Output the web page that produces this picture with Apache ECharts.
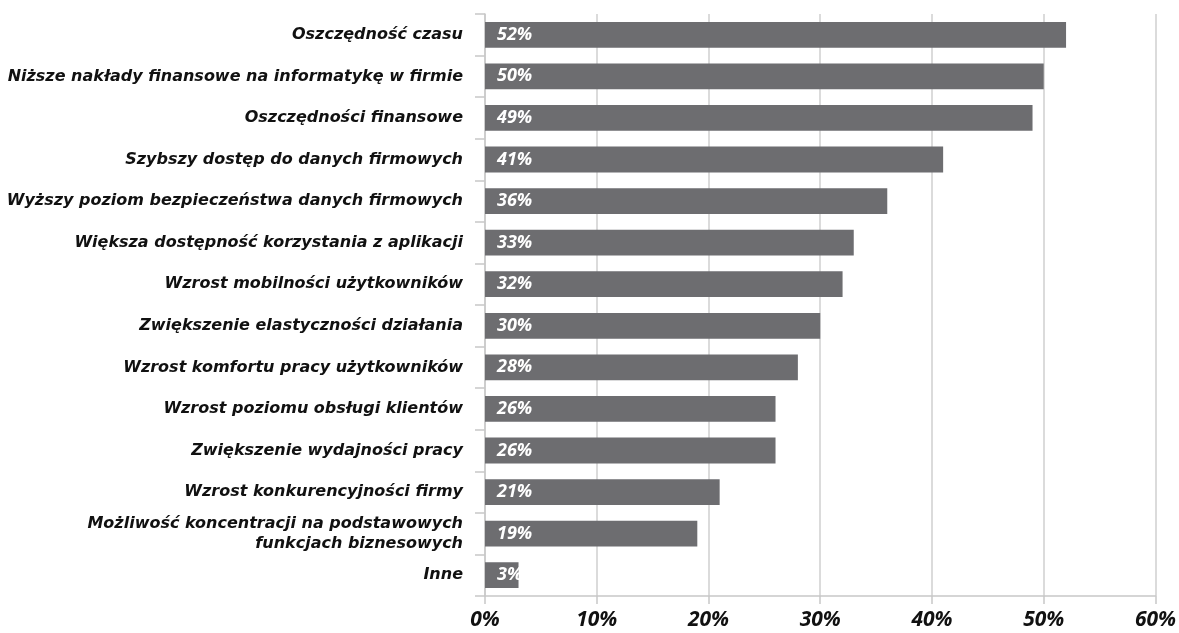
<!DOCTYPE html>
<html>
<head>
<meta charset="utf-8">
<script src="https://cdn.jsdelivr.net/npm/echarts@6/dist/echarts.min.js"></script>
<style>
  html, body { margin: 0; padding: 0; background: #fff; }
  #chart { width: 1179px; height: 633px; }
</style>
</head>
<body>
<div id="chart"></div>
<script>
// kategorie i wartości (%)
var categories = [
    'Oszczędność czasu',
    'Niższe nakłady finansowe na informatykę w firmie',
    'Oszczędności finansowe',
    'Szybszy dostęp do danych firmowych',
    'Wyższy poziom bezpieczeństwa danych firmowych',
    'Większa dostępność korzystania z aplikacji',
    'Wzrost mobilności użytkowników',
    'Zwiększenie elastyczności działania',
    'Wzrost komfortu pracy użytkowników',
    'Wzrost poziomu obsługi klientów',
    'Zwiększenie wydajności pracy',
    'Wzrost konkurencyjności firmy',
    'Możliwość koncentracji na podstawowych\nfunkcjach biznesowych',
    'Inne'
];
var values = [52, 50, 49, 41, 36, 33, 32, 30, 28, 26, 26, 21, 19, 3];
var xTicks = [0, 10, 20, 30, 40, 50, 60];

var labelFont = '"DejaVu Sans", sans-serif';
var numFont = '"Open Sans", "DejaVu Sans", sans-serif';

var chart = echarts.init(document.getElementById('chart'));

var option = {
    animation: false,
    grid: {
        left: 485,
        right: 22,
        top: 14,
        bottom: 37,
        containLabel: false
    },
    xAxis: {
        type: 'value',
        min: xTicks[0],
        max: xTicks[xTicks.length - 1],
        interval: 10,
        axisLine: { show: true, lineStyle: { color: '#c8c8c8', width: 1.5 } },
        axisTick: { show: true, length: 8, lineStyle: { color: '#c8c8c8', width: 1.5 } },
        splitLine: { show: true, lineStyle: { color: '#cfcfcf', width: 1.5 } },
        axisLabel: {
            margin: 14,
            formatter: '{value}%',
            color: '#111',
            fontFamily: numFont,
            fontSize: 21,
            fontWeight: 'bold',
            fontStyle: 'italic'
        }
    },
    yAxis: {
        type: 'category',
        inverse: true,
        data: categories,
        axisLine: { show: true, lineStyle: { color: '#c8c8c8', width: 1.5 } },
        axisTick: { show: true, length: 10, lineStyle: { color: '#c8c8c8', width: 1.5 } },
        axisLabel: {
            margin: 22,
            color: '#111',
            fontFamily: labelFont,
            fontSize: 16,
            fontWeight: 'bold',
            fontStyle: 'italic',
            lineHeight: 20,
            align: 'right'
        }
    },
    series: [{
        type: 'bar',
        data: values,
        barCategoryGap: '38%',
        itemStyle: { color: '#6d6d70' },
        label: {
            show: true,
            position: 'insideLeft',
            distance: 12,
            formatter: '{c}%',
            color: '#fff',
            fontFamily: numFont,
            fontSize: 18,
            fontWeight: 'bold',
            fontStyle: 'italic'
        }
    }]
};

chart.setOption(option);
</script>
</body>
</html>
